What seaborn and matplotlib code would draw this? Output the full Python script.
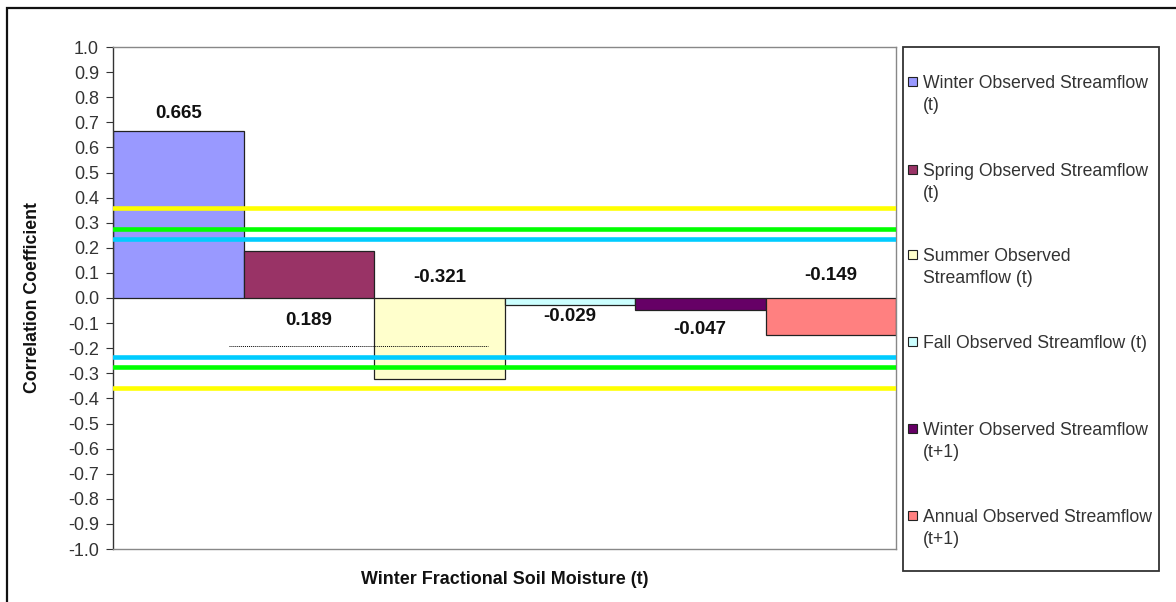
import matplotlib
matplotlib.use("Agg")
import matplotlib.pyplot as plt
import seaborn as sns
from matplotlib.patches import Rectangle

# ---- data ----
series = ["Winter Observed Streamflow (t)", "Spring Observed Streamflow (t)",
          "Summer Observed Streamflow (t)", "Fall Observed Streamflow (t)",
          "Winter Observed Streamflow (t+1)", "Annual Observed Streamflow (t+1)"]
legend_labels = ["Winter Observed Streamflow\n(t)", "Spring Observed Streamflow\n(t)",
                 "Summer Observed\nStreamflow (t)", "Fall Observed Streamflow (t)",
                 "Winter Observed Streamflow\n(t+1)", "Annual Observed Streamflow\n(t+1)"]
values = [0.665, 0.189, -0.321, -0.029, -0.047, -0.149]
colors = ["#9999FF", "#993366", "#FFFFCC", "#CCFFFF", "#660066", "#FF8080"]
sig_levels = [0.36, 0.275, 0.235]
sig_colors = ["#FFFF00", "#00FF00", "#00CCFF"]
label_y = [0.737, -0.088, 0.081, -0.075, -0.126, 0.088]   # label text positions (as in original)
dotted_y = -0.19

W, H = 1176, 602
sns.set_theme(style="white")
plt.rcParams['font.family'] = ['Liberation Sans', 'DejaVu Sans']

fig = plt.figure(figsize=(W / 100, H / 100), dpi=100)
ax = fig.add_axes([113 / W, 1 - 549 / H, (896 - 113) / W, (549 - 47) / H])

sns.barplot(x=series, y=values, hue=series, palette=colors, width=1.0,
            edgecolor="#222222", linewidth=0.9, legend=False, ax=ax, saturation=1)

ax.set_xlim(-0.5, 5.5)
ax.set_ylim(-1.0, 1.0)
ax.set_yticks([i / 10 for i in range(-10, 11)])
ax.set_yticklabels([f"{i / 10:.1f}" for i in range(-10, 11)], fontsize=13, color="#333333")
ax.set_xticks([])
ax.tick_params(axis="y", direction="out", length=5, width=0.8, color="#333333", left=True, pad=5)

for s, c in zip(sig_levels, sig_colors):
    ax.axhline(s, color=c, lw=3.3, zorder=5)
    ax.axhline(-s, color=c, lw=3.3, zorder=5)

ax.plot([0.39, 2.37], [dotted_y, dotted_y], color="black", lw=0.7, ls=(0, (1, 1)), zorder=6)

for i, (v, ly) in enumerate(zip(values, label_y)):
    ax.text(i, ly, f"{v:.3f}", ha="center", va="center", fontsize=13.5,
            fontweight="bold", color="#111111", zorder=7)

for side in ["top", "right", "bottom"]:
    ax.spines[side].set_color("#888888")
    ax.spines[side].set_linewidth(1.0)
ax.spines["left"].set_color("#333333")
ax.spines["left"].set_linewidth(1.0)

ax.set_ylabel("Correlation Coefficient", fontsize=12.7, fontweight="bold", color="#111111")
ax.yaxis.set_label_coords(-(113 - 33) / (896 - 113), 0.5)
ax.yaxis.label.set_va("center")
ax.set_xlabel("Winter Fractional Soil Moisture (t)", fontsize=12.9, fontweight="bold", color="#111111")
ax.xaxis.set_label_coords(0.5, -(580 - 549) / (549 - 47))
ax.xaxis.label.set_va("center")

# figure border
fig.add_artist(Rectangle((7 / W, -0.05), 1.2, 1 - 8 / H + 0.05, transform=fig.transFigure,
                         fill=False, edgecolor="#111111", lw=1.6))

# legend box
fig.add_artist(Rectangle((903 / W, 1 - 571 / H), (1159 - 903) / W, (571 - 47) / H,
                         transform=fig.transFigure, fill=False, edgecolor="#333333", lw=1.3))
first_line_y = [82, 170, 255, 342, 429, 516]
for lab, c, yy in zip(legend_labels, colors, first_line_y):
    fig.add_artist(Rectangle((908 / W, 1 - (yy + 4) / H), 9 / W, 9 / H, transform=fig.transFigure,
                             facecolor=c, edgecolor="#222222", lw=0.8))
    fig.text(923 / W, 1 - (yy - 7) / H, lab, ha="left", va="top", fontsize=12.7,
             color="#333333", linespacing=1.4)

fig.savefig("out.png", dpi=100)
